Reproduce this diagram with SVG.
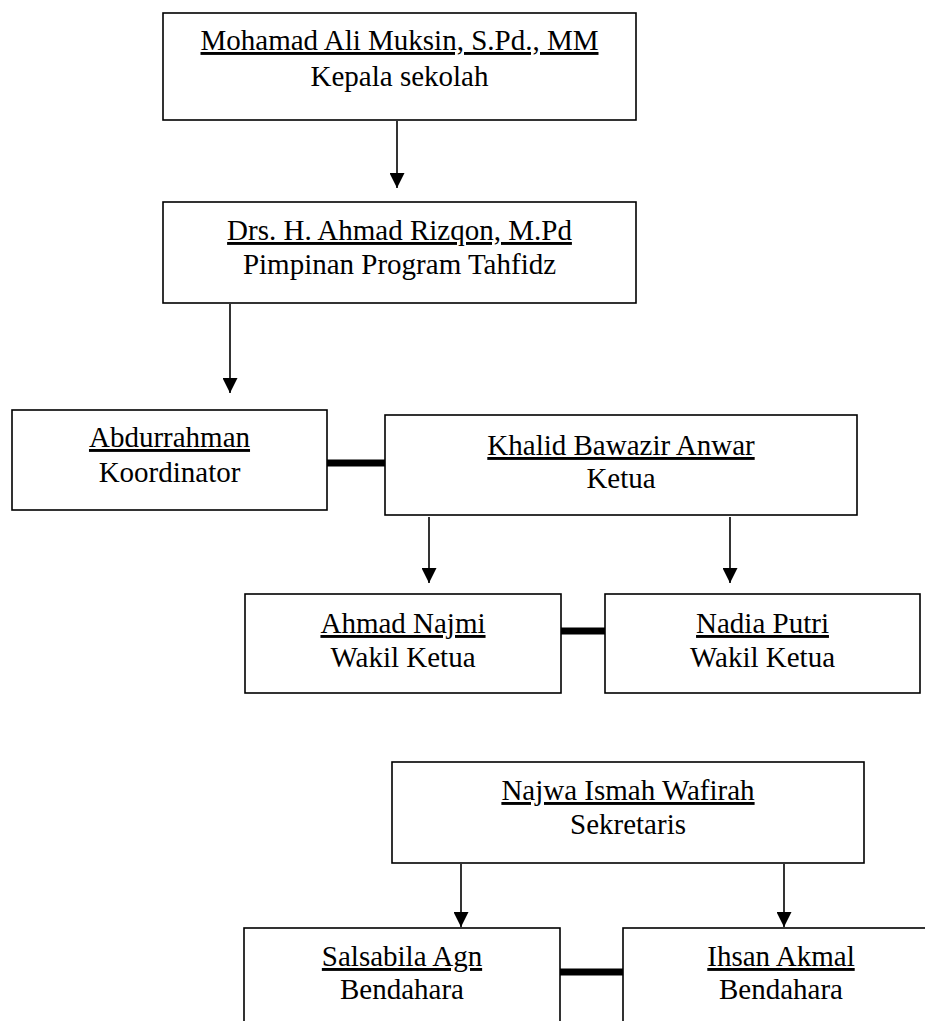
<svg xmlns="http://www.w3.org/2000/svg" width="925" height="1021" viewBox="0 0 925 1021">
<style>
.box{fill:#fff;stroke:#000;stroke-width:1.6}
text{font-family:"Liberation Serif","Times New Roman",serif;font-size:29px;fill:#000;text-anchor:middle}
.nm{text-decoration:underline}
.arrow{stroke:#000;stroke-width:1.6;fill:none;marker-end:url(#ah)}
.thick{stroke:#000;stroke-width:7;fill:none}
</style>
<defs>
<marker id="ah" markerWidth="15" markerHeight="15" viewBox="0 0 15 15" refX="15" refY="7.5" orient="auto" markerUnits="userSpaceOnUse">
<path d="M0,0 L15,7.5 L0,15 Z" fill="#000"/>
</marker>
</defs>
<rect width="925" height="1021" fill="#fff"/>
<g id="connectors">
<line class="arrow" x1="397" y1="121" x2="397" y2="188"/>
<line class="arrow" x1="230" y1="304" x2="230" y2="393"/>
<line class="thick" x1="327" y1="463" x2="385" y2="463"/>
<line class="arrow" x1="429" y1="517" x2="429" y2="583"/>
<line class="arrow" x1="730" y1="517" x2="730" y2="583"/>
<line class="thick" x1="561" y1="631" x2="605" y2="631"/>
<line class="arrow" x1="461" y1="864" x2="461" y2="927"/>
<line class="arrow" x1="784" y1="864" x2="784" y2="927"/>
<line class="thick" x1="560" y1="972" x2="623" y2="972"/>
</g>
<g id="kepala">
<rect class="box" x="163" y="13" width="473" height="107"/>
<text class="nm" x="399.5" y="50">Mohamad Ali Muksin, S.Pd., MM</text>
<text x="399.5" y="86">Kepala sekolah</text>
</g>
<g id="pimpinan">
<rect class="box" x="163" y="202" width="473" height="101"/>
<text class="nm" x="399.5" y="240">Drs. H. Ahmad Rizqon, M.Pd</text>
<text x="399.5" y="274">Pimpinan Program Tahfidz</text>
</g>
<g id="koordinator">
<rect class="box" x="12" y="410" width="315" height="100"/>
<text class="nm" x="169.5" y="447">Abdurrahman</text>
<text x="169.5" y="482">Koordinator</text>
</g>
<g id="ketua">
<rect class="box" x="385" y="415" width="472" height="100"/>
<text class="nm" x="621" y="455">Khalid Bawazir Anwar</text>
<text x="621" y="488">Ketua</text>
</g>
<g id="wakil1">
<rect class="box" x="245" y="594" width="316" height="99"/>
<text class="nm" x="403" y="633">Ahmad Najmi</text>
<text x="403" y="667">Wakil Ketua</text>
</g>
<g id="wakil2">
<rect class="box" x="605" y="594" width="315" height="99"/>
<text class="nm" x="762.5" y="633">Nadia Putri</text>
<text x="762.5" y="667">Wakil Ketua</text>
</g>
<g id="sekretaris">
<rect class="box" x="392" y="762" width="472" height="101"/>
<text class="nm" x="628" y="800">Najwa Ismah Wafirah</text>
<text x="628" y="834">Sekretaris</text>
</g>
<g id="bendahara1">
<rect class="box" x="244" y="928" width="316" height="110"/>
<text class="nm" x="402" y="966">Salsabila Agn</text>
<text x="402" y="999">Bendahara</text>
</g>
<g id="bendahara2">
<rect class="box" x="623" y="928" width="316" height="110"/>
<text class="nm" x="781" y="966">Ihsan Akmal</text>
<text x="781" y="999">Bendahara</text>
</g>
</svg>
